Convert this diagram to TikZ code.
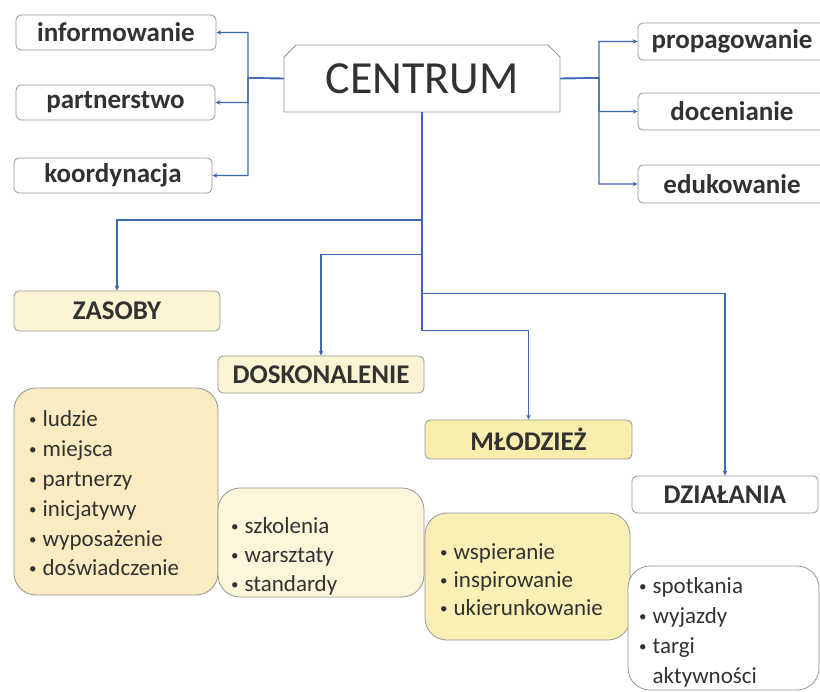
\documentclass[tikz,border=0pt]{standalone}
\usepackage{fontspec}
\setmainfont{Carlito}
\usetikzlibrary{arrows.meta,shapes.misc}
\definecolor{conblue}{RGB}{62,104,182}
\definecolor{boxgray}{RGB}{150,150,150}
\definecolor{txt}{RGB}{50,50,50}
\definecolor{ylight}{RGB}{252,245,212}
\definecolor{ymid}{RGB}{249,238,172}
\definecolor{yorange}{RGB}{250,235,192}
\definecolor{ypale}{RGB}{253,246,218}
\definecolor{ylist}{RGB}{250,239,180}
\newcommand\bul{\raisebox{2pt}{\fontsize{15}{15}\selectfont•}\hspace{6pt}}
\tikzset{
  x=1pt,y=-1pt,
  conn/.style={draw=conblue,line width=1.4pt,-{Stealth[length=5pt,width=4.5pt]}},
  lbl/.style={draw=boxgray,line width=0.8pt,rounded corners=5pt,inner sep=0pt,
    text=txt,font=\fontsize{27}{30}\selectfont\bfseries,fill=white},
  listbox/.style={draw=boxgray,line width=0.8pt,inner sep=0pt,rounded corners=22pt},
  listtxt/.style={anchor=west,align=left,text=txt,inner sep=0pt,
    font=\fontsize{23}{29.8}\selectfont},
}
\begin{document}
\begin{tikzpicture}
\clip (0,0) rectangle (820,692);
\fill[white] (0,0) rectangle (820,692);
% top row
\node[lbl,minimum width=200,minimum height=35] (info) at (116,32.5) {informowanie};
\node[lbl,minimum width=199,minimum height=35] (partner) at (115.5,102.5) {partnerstwo};
\node[lbl,minimum width=198,minimum height=35] (koord) at (113,175.5) {koordynacja};
\node[draw=boxgray,line width=0.8pt,fill=white,chamfered rectangle,
  chamfered rectangle corners={north west,north east},chamfered rectangle xsep=6pt,
  chamfered rectangle ysep=6pt,inner sep=0pt,minimum width=276,minimum height=67,
  text=txt,font=\fontsize{46}{50}\selectfont] (centrum) at (422,78.5) {CENTRUM};
\node[lbl,minimum width=188,minimum height=37] (prop) at (732,41.5) {propagowanie};
\node[lbl,minimum width=188,minimum height=37] (docen) at (732,111.5) {docenianie};
\node[lbl,minimum width=188,minimum height=38] (eduk) at (732,184) {edukowanie};
% second level
\node[lbl,fill=ylight,minimum width=206,minimum height=40] (zasoby) at (117,311) {ZASOBY};
\node[lbl,fill=ylight,minimum width=206,minimum height=37] (doskon) at (321,374.5) {DOSKONALENIE};
\node[lbl,fill=ymid,minimum width=207,minimum height=39] (mlodz) at (528.5,439.5) {MŁODZIEŻ};
\node[lbl,minimum width=186,minimum height=37] (dzial) at (725,494.5) {DZIAŁANIA};
% list boxes
\node[listbox,fill=yorange,minimum width=204,minimum height=207] (list1) at (116,491.5) {};
\node[listbox,fill=ypale,minimum width=206,minimum height=109] (list2) at (321,542.5) {};
\node[listbox,fill=ylist,minimum width=205,minimum height=127] (list3) at (527.5,576.5) {};
\node[listbox,fill=white,minimum width=191,minimum height=124] (list4) at (723.5,628) {};
\node[listtxt] (t1) at (29,493.5) {\bul ludzie\\\bul miejsca\\\bul partnerzy\\\bul inicjatywy\\\bul wyposażenie\\\bul doświadczenie};
\node[listtxt,font=\fontsize{23}{29}\selectfont] (t2) at (231,556) {\bul szkolenia\\\bul warsztaty\\\bul standardy};
\node[listtxt,font=\fontsize{23}{28}\selectfont] (t3) at (440,580) {\bul wspieranie\\\bul inspirowanie\\\bul ukierunkowanie};
\node[listtxt] (t4) at (639,632.5) {\bul spotkania\\\bul wyjazdy\\\bul targi\\\hphantom{\bul}aktywności};
% connectors
\coordinate (tl) at (248,78);
\coordinate (tr) at (599,78);
\draw[conn] (centrum.west) -- (tl) |- (info.east);
\draw[conn] (centrum.west) -- (tl) |- (partner.east);
\draw[conn] (centrum.west) -- (tl) |- (koord.east);
\draw[conn] (centrum.east) -- (tr) |- (prop.west);
\draw[conn] (centrum.east) -- (tr) |- (docen.west);
\draw[conn] (centrum.east) -- (tr) |- (eduk.west);
\draw[conn] (centrum.south) -- ++(0,107.5) -| (zasoby.north);
\draw[conn] (centrum.south) -- ++(0,142) -| (doskon.north);
\draw[conn] (centrum.south) -- ++(0,218) -| (mlodz.north);
\draw[conn] (centrum.south) -- ++(0,181) -| (dzial.north);
\end{tikzpicture}
\end{document}
